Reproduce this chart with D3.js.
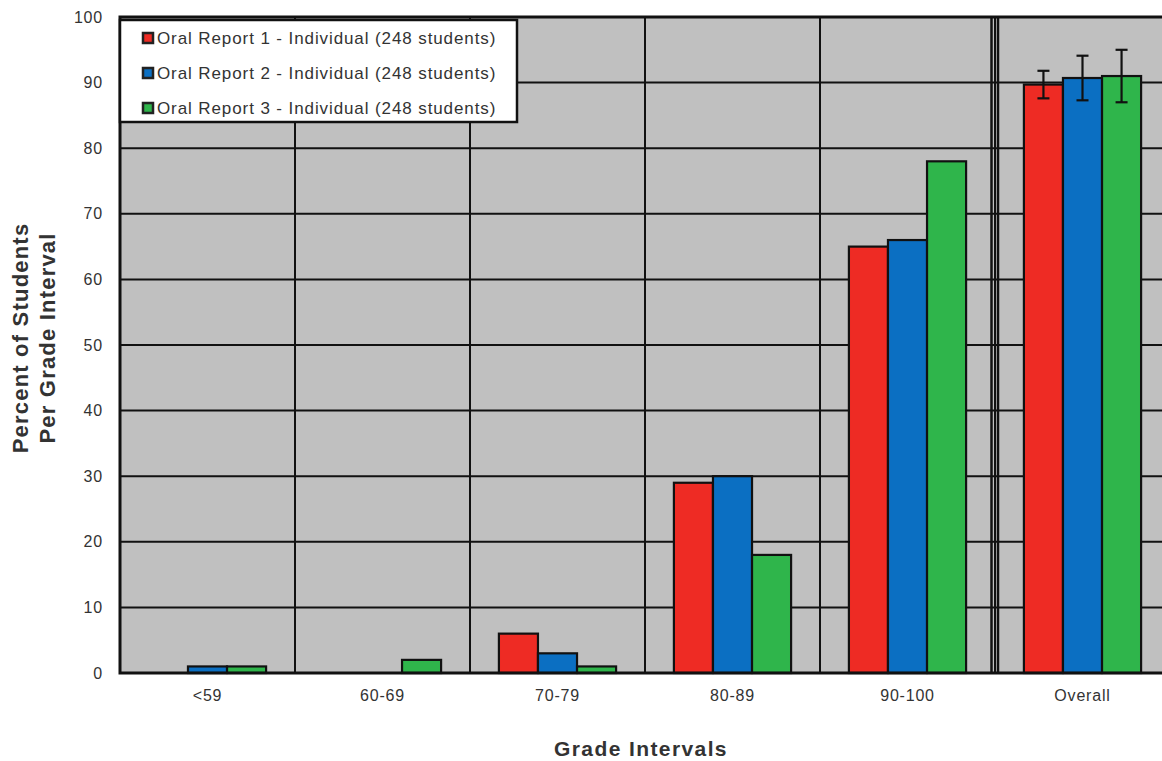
<!DOCTYPE html>
<html>
<head>
<meta charset="utf-8">
<script src="https://cdn.jsdelivr.net/npm/d3@7"></script>
<style>
  html, body { margin: 0; padding: 0; background: #fff; }
  svg { display: block; font-family: Arial, "Liberation Sans", sans-serif; }
</style>
</head>
<body>
<svg id="chart" width="1162" height="761"></svg>
<script>
// Grade-interval categories and per-report percentages
const categories = ["<59", "60-69", "70-79", "80-89", "90-100", "Overall"];
const seriesNames = [
  "Oral Report 1 - Individual (248 students)",
  "Oral Report 2 - Individual (248 students)",
  "Oral Report 3 - Individual (248 students)"
];
const report1 = [0, 0, 6, 29, 65, 89.7];
const report2 = [1, 0, 3, 30, 66, 90.7];
const report3 = [1, 2, 1, 18, 78, 91.0];
// Error half-widths, only for the "Overall" group
const overallError = [2.1, 3.4, 4.0];
const yTicks = [0, 10, 20, 30, 40, 50, 60, 70, 80, 90, 100];
const colors = ["#ee2b24", "#0b6fc2", "#2fb54b"];

const seriesValues = [report1, report2, report3];

const svg = d3.select("#chart");
const plot = { left: 120, right: 1170, top: 17, bottom: 673 };

const x = d3.scaleBand().domain(categories).range([plot.left, plot.right]).paddingInner(0).paddingOuter(0);
const inner = d3.scaleBand().domain(d3.range(3)).range([0, x.bandwidth()]).paddingOuter(0.74).paddingInner(0);
const y = d3.scaleLinear().domain([0, 100]).range([plot.bottom, plot.top]);

// Plot background
svg.append("rect")
  .attr("x", plot.left).attr("y", plot.top)
  .attr("width", plot.right - plot.left).attr("height", plot.bottom - plot.top)
  .attr("fill", "#c0c0c0");

// Horizontal gridlines
svg.append("g").selectAll("line").data(yTicks).join("line")
  .attr("x1", plot.left).attr("x2", plot.right)
  .attr("y1", d => y(d)).attr("y2", d => y(d))
  .attr("stroke", "#111").attr("stroke-width", 2);

// Vertical category separators
const seps = categories.slice(1);
svg.append("g").selectAll("line").data(seps).join("line")
  .attr("x1", d => x(d)).attr("x2", d => x(d))
  .attr("y1", plot.top).attr("y2", plot.bottom)
  .attr("stroke", "#111").attr("stroke-width", 2);

// Double separator before the "Overall" group
const ox = x("Overall");
svg.append("line").attr("x1", ox - 3.5).attr("x2", ox - 3.5).attr("y1", plot.top).attr("y2", plot.bottom)
  .attr("stroke", "#111").attr("stroke-width", 2.5);
svg.append("line").attr("x1", ox + 3).attr("x2", ox + 3).attr("y1", plot.top).attr("y2", plot.bottom)
  .attr("stroke", "#111").attr("stroke-width", 2.5);

// Bars
const barData = [];
categories.forEach((c, ci) => {
  seriesValues.forEach((vals, si) => {
    barData.push({ cat: c, s: si, v: vals[ci] });
  });
});
svg.append("g").selectAll("rect").data(barData.filter(d => d.v > 0)).join("rect")
  .attr("x", d => x(d.cat) + inner(d.s))
  .attr("width", inner.bandwidth())
  .attr("y", d => y(d.v))
  .attr("height", d => y(0) - y(d.v))
  .attr("fill", d => colors[d.s])
  .attr("stroke", "#111").attr("stroke-width", 2.2);

// Error bars on the Overall group
const errG = svg.append("g");
seriesValues.forEach((vals, si) => {
  const v = vals[categories.length - 1];
  const e = overallError[si];
  const cx = x("Overall") + inner(si) + inner.bandwidth() / 2;
  errG.append("line").attr("x1", cx).attr("x2", cx).attr("y1", y(v + e)).attr("y2", y(v - e))
    .attr("stroke", "#111").attr("stroke-width", 2.2);
  [v + e, v - e].forEach(t => {
    errG.append("line").attr("x1", cx - 6).attr("x2", cx + 6).attr("y1", y(t)).attr("y2", y(t))
      .attr("stroke", "#111").attr("stroke-width", 2.2);
  });
});

// Plot frame (left, top, bottom)
svg.append("path")
  .attr("d", `M${plot.right},${plot.top}H${plot.left}V${plot.bottom}H${plot.right}`)
  .attr("fill", "none").attr("stroke", "#111").attr("stroke-width", 3);

// Y axis labels
const yAxis = d3.axisLeft(y).tickValues(yTicks).tickSize(0).tickPadding(17);
const yg = svg.append("g").attr("transform", `translate(${plot.left},0)`).call(yAxis);
yg.select(".domain").remove();
yg.selectAll("text").attr("font-size", 16).attr("letter-spacing", 0.8).attr("fill", "#333")
  .attr("font-family", "Arial, 'Liberation Sans', sans-serif");

// X axis labels
const xAxis = d3.axisBottom(x).tickSize(0).tickPadding(17);
const xg = svg.append("g").attr("transform", `translate(0,${plot.bottom})`).call(xAxis);
xg.select(".domain").remove();
xg.selectAll("text").attr("font-size", 16).attr("letter-spacing", 0.8).attr("fill", "#333")
  .attr("font-family", "Arial, 'Liberation Sans', sans-serif");

// Axis titles
svg.append("text").attr("x", 641).attr("y", 756).attr("text-anchor", "middle")
  .attr("font-size", 21).attr("letter-spacing", 1.4).attr("font-weight", "bold").attr("fill", "#333")
  .text("Grade Intervals");
const yt = svg.append("text").attr("transform", "translate(0,338) rotate(-90)")
  .attr("text-anchor", "middle").attr("font-size", 22).attr("letter-spacing", 1.2)
  .attr("font-weight", "bold").attr("fill", "#333");
yt.append("tspan").attr("x", 0).attr("y", 28).text("Percent of Students");
yt.append("tspan").attr("x", 0).attr("y", 55).text("Per Grade Interval");

// Legend
const lg = svg.append("g");
lg.append("rect").attr("x", 120).attr("y", 20).attr("width", 397).attr("height", 102)
  .attr("fill", "#fff").attr("stroke", "#111").attr("stroke-width", 2.5);
seriesNames.forEach((name, i) => {
  const cy = 38 + i * 35;
  lg.append("rect").attr("x", 143).attr("y", cy - 5).attr("width", 10).attr("height", 10)
    .attr("fill", colors[i]).attr("stroke", "#222").attr("stroke-width", 2.5);
  lg.append("text").attr("x", 157).attr("y", cy + 6).attr("font-size", 17).attr("letter-spacing", 0.9)
    .attr("fill", "#333").text(name);
});
</script>
</body>
</html>
